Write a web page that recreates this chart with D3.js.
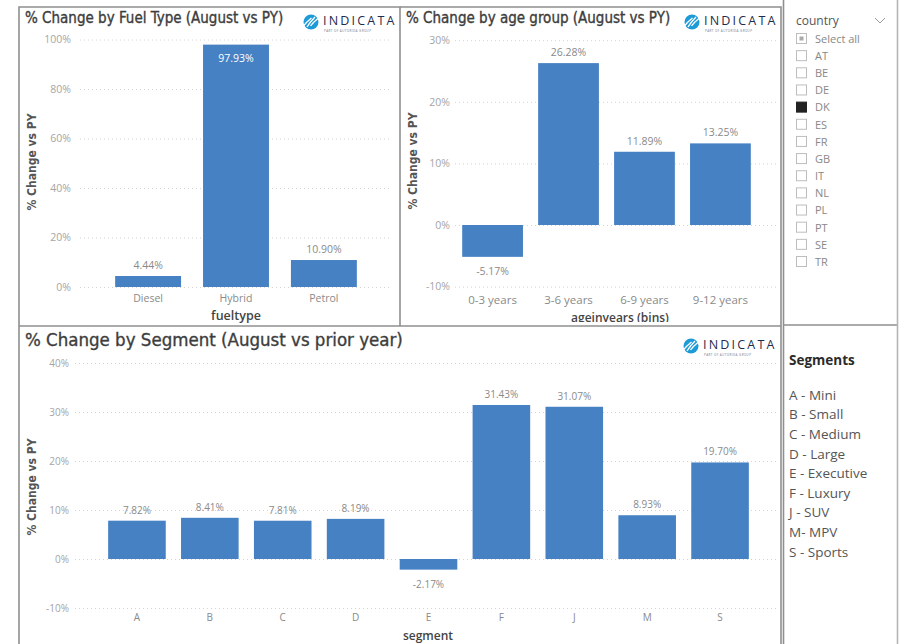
<!DOCTYPE html>
<html>
<head>
<meta charset="utf-8">
<script src="https://cdn.jsdelivr.net/npm/d3@7"></script>
<style>
  html, body { margin: 0; padding: 0; background: #fff; }
  svg { display: block; }
</style>
</head>
<body>
<svg id="dash" width="899" height="644"></svg>
<script>
// ---- data ----
const fuelTypes = ["Diesel", "Hybrid", "Petrol"];
const fuelChange = [4.44, 97.93, 10.90];
const fuelTicks = [0, 20, 40, 60, 80, 100];

const ageGroups = ["0-3 years", "3-6 years", "6-9 years", "9-12 years"];
const ageChange = [-5.17, 26.28, 11.89, 13.25];
const ageTicks = [-10, 0, 10, 20, 30];

const segments = ["A", "B", "C", "D", "E", "F", "J", "M", "S"];
const segmentChange = [7.82, 8.41, 7.81, 8.19, -2.17, 31.43, 31.07, 8.93, 19.70];
const segmentTicks = [-10, 0, 10, 20, 30, 40];

const countries = ["AT", "BE", "DE", "DK", "ES", "FR", "GB", "IT", "NL", "PL", "PT", "SE", "TR"];
const selectedCountries = ["DK"];
const segmentNames = ["A - Mini", "B - Small", "C - Medium", "D - Large", "E - Executive",
                      "F - Luxury", "J - SUV", "M- MPV", "S - Sports"];

// ---- styles ----
const BAR = "#4681c3";
const UI_FONT = "'Open Sans', 'Noto Sans', sans-serif";
const TITLE_FONT = "'DejaVu Sans Condensed', 'DejaVu Sans', sans-serif";

const svg = d3.select("#dash");
svg.append("rect").attr("width", 899).attr("height", 644).attr("fill", "#fff");

const fmt = v => v.toFixed(2) + "%";

// ---- bar chart panel ----
function barChart(opt) {
  const g = svg.append("g");
  if (opt.clip) {
    const id = "clip" + Math.round(opt.clip.x);
    svg.append("clipPath").attr("id", id).append("rect")
      .attr("x", opt.clip.x).attr("y", opt.clip.y)
      .attr("width", opt.clip.w).attr("height", opt.clip.h);
    g.attr("clip-path", `url(#${id})`);
  }
  const y = d3.scaleLinear().domain(opt.yDomain).range(opt.yRange);
  const x = d3.scaleBand().domain(opt.cats).range(opt.xRange)
    .paddingInner(opt.padInner).paddingOuter(opt.padOuter);

  // gridlines + tick labels
  const yAxis = d3.axisLeft(y).tickValues(opt.ticks).tickFormat(d => d + "%")
    .tickSize(-(opt.gridEnd - opt.gridStart)).tickPadding(opt.gridStart - opt.tickRight);
  const ya = g.append("g").attr("transform", `translate(${opt.gridStart},0)`).call(yAxis);
  ya.select(".domain").remove();
  ya.selectAll(".tick line").attr("stroke", "#d4d4d4").attr("stroke-dasharray", "1,3");
  ya.selectAll(".tick text").attr("fill", "#a5a5a5")
    .style("font-family", UI_FONT).style("font-size", opt.tickSize + "px");

  // category labels
  const xAxis = d3.axisBottom(x).tickSize(0).tickPadding(0);
  const xa = g.append("g").attr("transform", `translate(0,${opt.catY})`).call(xAxis);
  xa.select(".domain").remove();
  xa.selectAll(".tick text").attr("fill", "#8a8a8a").attr("dy", "0.35em")
    .style("font-family", UI_FONT).style("font-size", opt.catSize + "px");

  // bars
  g.selectAll("rect.bar").data(opt.values).join("rect").attr("class", "bar")
    .attr("x", (d, i) => x(opt.cats[i]))
    .attr("width", x.bandwidth())
    .attr("y", d => Math.min(y(d), y(0)))
    .attr("height", d => Math.abs(y(d) - y(0)))
    .attr("fill", BAR);

  // value labels: above positive bars, below negative ones, inside when no room on top
  const inside = d => d >= 0 && y(d) - opt.yRange[1] < 20;
  g.selectAll("text.val").data(opt.values).join("text").attr("class", "val")
    .attr("x", (d, i) => x(opt.cats[i]) + x.bandwidth() / 2)
    .attr("y", d => d < 0 ? y(d) + 18 : inside(d) ? y(d) + 17 : y(d) - 7)
    .attr("text-anchor", "middle")
    .attr("fill", d => inside(d) ? "#fff" : "#8a8a8a")
    .style("font-family", UI_FONT).style("font-size", opt.valSize + "px")
    .text(fmt);

  // axis titles
  g.append("text").attr("transform", `translate(${opt.yTitleX},${opt.yTitleY}) rotate(-90)`)
    .attr("text-anchor", "middle").attr("dy", "0.35em")
    .attr("fill", "#555").style("font-family", TITLE_FONT).style("font-weight", "bold")
    .style("font-size", "12px").text("% Change vs PY");
  g.append("text").attr("x", opt.xTitleX).attr("y", opt.xTitleY)
    .attr("text-anchor", "middle").attr("dy", "0.35em")
    .attr("fill", "#444").style("font-family", UI_FONT).style("font-weight", 600)
    .style("font-size", opt.xTitleSize + "px").text(opt.xTitle);

  // panel title
  g.append("text").attr("x", opt.titleX).attr("y", opt.titleY).attr("dy", "0.35em")
    .attr("fill", "#3d3d3d").attr("stroke", "#3d3d3d").attr("stroke-width", 0.35)
    .style("font-family", TITLE_FONT)
    .style("font-size", opt.titleSize + "px").text(opt.title);
}

// ---- INDICATA logo ----
function logo(cx, cy) {
  const g = svg.append("g").attr("transform", `translate(${cx},${cy})`);
  g.append("circle").attr("r", 7.5).attr("fill", "#1d9ad8");
  [-3.5, 0, 3.5].forEach(o => {
    g.append("path")
      .attr("d", `M${o - 4},${5 - Math.abs(o) * 0.3} Q${o - 1},0 ${o + 4},${-5 + Math.abs(o) * 0.3}`)
      .attr("stroke", "#fff").attr("stroke-width", 1.3).attr("fill", "none");
  });
  g.append("text").attr("x", 12).attr("y", -1.5).attr("dy", "0.35em")
    .attr("fill", "#1f2d4d").style("font-family", UI_FONT).style("font-size", "12.5px")
    .style("letter-spacing", "2.2px").text("INDICATA");
  g.append("text").attr("x", 13).attr("y", 9.5)
    .attr("fill", "#6b7890").style("font-family", UI_FONT).style("font-size", "3px")
    .style("letter-spacing", "0.4px").text("PART OF AUTORIDA GROUP");
}

// ---- fuel type chart ----
barChart({
  cats: fuelTypes, values: fuelChange, ticks: fuelTicks,
  yDomain: [0, 100], yRange: [287, 39.5],
  xRange: [80, 392], padInner: 0.25, padOuter: 0.4,
  gridStart: 80, gridEnd: 392, tickRight: 71, tickSize: 10.5,
  catY: 298, catSize: 10.5, valSize: 10.5,
  yTitleX: 32, yTitleY: 162,
  xTitle: "fueltype", xTitleX: 236, xTitleY: 316, xTitleSize: 12.5,
  title: "% Change by Fuel Type (August vs PY)", titleX: 25, titleY: 18, titleSize: 15
});
logo(311, 22);

// ---- age group chart ----
barChart({
  cats: ageGroups, values: ageChange, ticks: ageTicks,
  yDomain: [-10, 30], yRange: [286.6, 40.2],
  xRange: [447, 766], padInner: 0.2, padOuter: 0.2,
  gridStart: 455, gridEnd: 776, tickRight: 450, tickSize: 10.5,
  catY: 300, catSize: 11.5, valSize: 10.5,
  yTitleX: 413, yTitleY: 161,
  xTitle: "ageinyears (bins)", xTitleX: 620, xTitleY: 318, xTitleSize: 12,
  title: "% Change by age group (August vs PY)", titleX: 406, titleY: 18, titleSize: 15,
  clip: { x: 401, y: 8, w: 380, h: 314 }
});
logo(692, 22);

// ---- segment chart ----
barChart({
  cats: segments, values: segmentChange, ticks: segmentTicks,
  yDomain: [-10, 40], yRange: [608, 363],
  xRange: [79, 778], padInner: 0.21, padOuter: 0.4,
  gridStart: 75, gridEnd: 776, tickRight: 69, tickSize: 10,
  catY: 617, catSize: 10, valSize: 10,
  yTitleX: 32, yTitleY: 487,
  xTitle: "segment", xTitleX: 428, xTitleY: 636, xTitleSize: 12,
  title: "% Change by Segment (August vs prior year)", titleX: 25, titleY: 340, titleSize: 18.5
});
logo(691, 346);

// ---- country slicer ----
const slicer = svg.append("g");
slicer.append("text").attr("x", 796).attr("y", 21).attr("dy", "0.35em")
  .attr("fill", "#555").style("font-family", UI_FONT).style("font-size", "12px").text("country");
slicer.append("path").attr("d", "M875,18 L880,23 L885,18")
  .attr("stroke", "#999").attr("stroke-width", 1).attr("fill", "none");
const slicerItems = ["Select all"].concat(countries);
const rowY = d3.scalePoint().domain(slicerItems).range([39, 262]);
slicerItems.forEach(c => {
  const yy = rowY(c);
  const sel = selectedCountries.includes(c);
  slicer.append("rect").attr("x", 796.5).attr("y", yy - 5.5).attr("width", 10).attr("height", 10)
    .attr("fill", sel ? "#222" : "#fff").attr("stroke", sel ? "#222" : "#bdbdbd");
  if (c === "Select all") {
    slicer.append("rect").attr("x", 799.5).attr("y", yy - 2.5).attr("width", 4).attr("height", 4)
      .attr("fill", "#aaa");
  }
  slicer.append("text").attr("x", 815).attr("y", yy).attr("dy", "0.35em")
    .attr("fill", "#888").style("font-family", UI_FONT).style("font-size", "11px").text(c);
});

// ---- segment legend ----
const legend = svg.append("g");
legend.append("text").attr("x", 789).attr("y", 360).attr("dy", "0.35em")
  .attr("fill", "#2b2b2b").style("font-family", UI_FONT).style("font-weight", "bold")
  .style("font-size", "13.5px").text("Segments");
const legY = d3.scalePoint().domain(segmentNames).range([395, 552]);
segmentNames.forEach(s => {
  legend.append("text").attr("x", 789).attr("y", legY(s)).attr("dy", "0.35em")
    .attr("fill", "#555").style("font-family", UI_FONT).style("font-size", "13.5px").text(s);
});

// ---- panel frames ----
const frame = svg.append("g").attr("stroke", "#8f8f8f").attr("stroke-width", 1.6).attr("fill", "none");
frame.append("path").attr("d", "M19,644 V7 H400 V326");
frame.append("path").attr("d", "M400,7 H781 V644");
frame.append("path").attr("d", "M19,326 H781");
frame.append("path").attr("d", "M783.5,0 V644");
frame.append("path").attr("d", "M783,325 H898");
frame.append("path").attr("d", "M897.5,0 V644").attr("stroke", "#b5b5b5");
</script>
</body>
</html>
